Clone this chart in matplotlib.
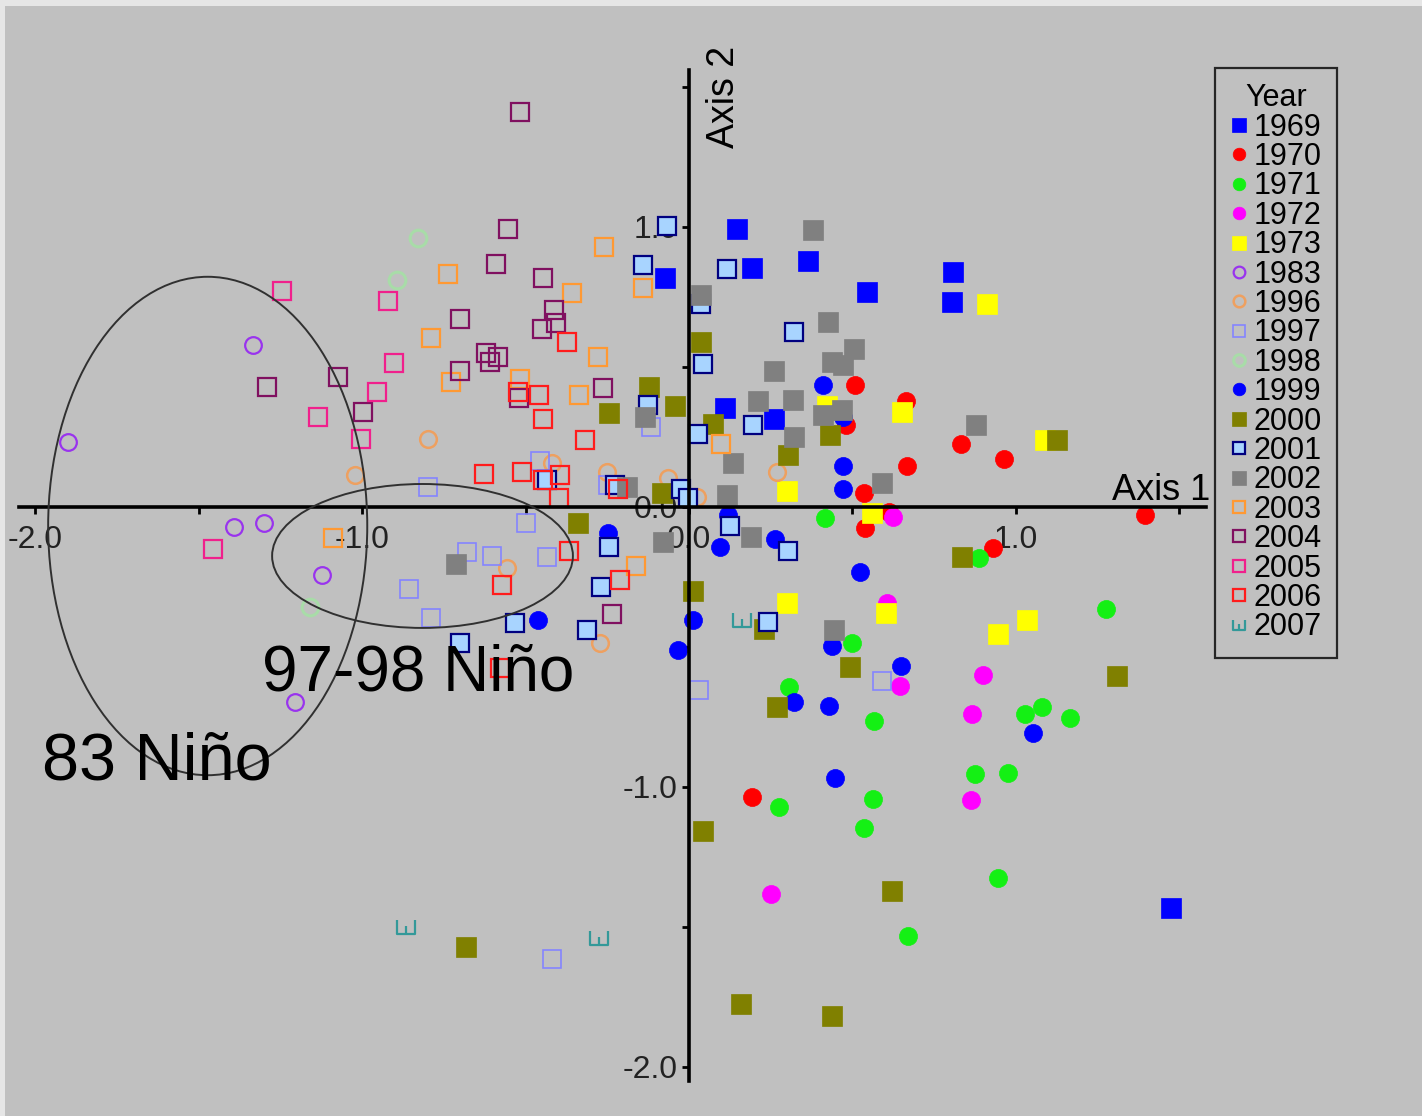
import matplotlib.pyplot as plt
from matplotlib.path import Path
from matplotlib.patches import Ellipse

plt.rcParams['font.family'] = ['Liberation Sans', 'DejaVu Sans']

# scores on the two ordination axes, per year
x_1969 = [0.147, 0.193, -0.073, 0.364, 0.544, 0.807, 0.804, 0.110, 0.260, 1.474]
y_1969 = [0.993, 0.854, 0.818, 0.879, 0.768, 0.839, 0.732, 0.354, 0.314, -1.432]

x_1970 = [0.508, 0.664, 0.480, 0.832, 0.963, 0.667, 0.535, 0.538, 0.612, 1.394, 0.930, 0.193]
y_1970 = [0.436, 0.379, 0.293, 0.225, 0.171, 0.146, 0.050, -0.075, -0.018, -0.029, -0.146, -1.036]

x_1971 = [0.416, 0.887, 0.498, 1.275, 0.306, 0.566, 1.028, 1.080, 1.165, 0.875, 0.976,
          0.563, 0.275, 0.535, 0.945, 0.670]
y_1971 = [-0.039, -0.182, -0.486, -0.364, -0.643, -0.764, -0.739, -0.714, -0.754, -0.954, -0.950,
          -1.043, -1.071, -1.146, -1.325, -1.532]

x_1972 = [0.624, 0.606, 0.645, 0.899, 0.865, 0.862, 0.251]
y_1972 = [-0.036, -0.343, -0.639, -0.600, -0.739, -1.046, -1.382]

x_1973 = [0.911, 0.651, 0.422, 0.300, 0.560, 1.089, 0.300, 0.602, 0.945, 1.034]
y_1973 = [0.725, 0.339, 0.361, 0.057, -0.021, 0.239, -0.343, -0.379, -0.454, -0.404]

x_1983 = [-1.333, -1.899, -1.391, -1.300, -1.122, -1.205]
y_1983 = [0.579, 0.232, -0.071, -0.057, -0.243, -0.696]

x_1996 = [-0.798, -1.021, -0.419, -0.251, -0.557, -0.272, -0.064, 0.269, 0.024]
y_1996 = [0.243, 0.114, 0.157, 0.125, -0.218, -0.486, 0.104, 0.125, 0.036]

x_1997 = [-0.798, -0.498, -0.679, -0.602, -0.434, -0.856, -0.789, -0.456, -0.116, 0.031,
          0.590, -0.419, -0.248]
y_1997 = [0.071, -0.057, -0.161, -0.175, -0.179, -0.293, -0.396, 0.164, 0.286, -0.654,
          -0.621, -1.614, 0.079]

x_1998 = [-0.829, -0.893, -1.159]
y_1998 = [0.961, 0.811, -0.357]

x_1999 = [0.410, 0.471, 0.471, 0.471, 0.119, 0.095, 0.263, 0.523, -0.462, -0.248, 0.012,
          -0.034, 0.437, 0.648, 0.321, 0.428, 0.446, 1.052]
y_1999 = [0.436, 0.321, 0.146, 0.064, -0.029, -0.143, -0.114, -0.232, -0.404, -0.093, -0.404,
          -0.511, -0.496, -0.568, -0.696, -0.711, -0.968, -0.807]

x_2000 = [-0.245, -0.122, -0.043, 0.037, 0.073, 0.303, 0.431, -0.083, -0.339, 0.835, 1.125,
          0.012, 0.229, 0.492, 0.269, 1.309, 0.043, 0.621, -0.682, 0.159, 0.437]
y_2000 = [0.336, 0.429, 0.361, 0.589, 0.296, 0.186, 0.257, 0.050, -0.057, -0.179, 0.239,
          -0.300, -0.436, -0.571, -0.714, -0.604, -1.157, -1.371, -1.571, -1.775, -1.818]

x_2001 = [-0.067, -0.141, 0.116, 0.321, 0.037, 0.043, -0.125, 0.028, 0.196, -0.024, -0.003,
          0.125, 0.303, 0.242, -0.532, -0.312, -0.700, -0.269, -0.245, -0.434, -0.226]
y_2001 = [1.004, 0.864, 0.850, 0.625, 0.725, 0.511, 0.364, 0.261, 0.293, 0.064, 0.032,
          -0.068, -0.157, -0.411, -0.414, -0.439, -0.486, -0.286, -0.143, 0.096, 0.079]

x_2002 = [0.379, 0.037, 0.425, 0.505, 0.437, 0.471, 0.260, 0.211, 0.318, 0.410, 0.468,
          -0.135, 0.321, 0.135, 0.590, 0.116, 0.190, -0.080, 0.443, -0.713, 0.878, -0.190]
y_2002 = [0.989, 0.757, 0.661, 0.564, 0.518, 0.507, 0.486, 0.379, 0.382, 0.329, 0.346,
          0.321, 0.250, 0.157, 0.086, 0.043, -0.107, -0.125, -0.439, -0.204, 0.293, 0.071]

x_2003 = [-0.260, -0.737, -0.358, -0.789, -0.278, -0.728, -0.517, -0.336, -0.141, -1.089,
          0.098, -0.162]
y_2003 = [0.929, 0.832, 0.764, 0.604, 0.536, 0.446, 0.457, 0.400, 0.782, -0.111,
          0.225, -0.211]

x_2004 = [-0.517, -0.554, -0.590, -0.446, -0.700, -0.413, -0.407, -0.450, -0.621, -0.584,
          -0.609, -0.700, -0.263, -1.073, -1.291, -0.997, -0.235, -0.520]
y_2004 = [1.411, 0.993, 0.868, 0.818, 0.671, 0.704, 0.657, 0.636, 0.550, 0.536,
          0.518, 0.486, 0.425, 0.464, 0.429, 0.339, -0.382, 0.389]

x_2005 = [-1.245, -0.920, -0.902, -0.954, -1.003, -1.135, -1.456]
y_2005 = [0.771, 0.736, 0.514, 0.411, 0.243, 0.321, -0.150]

x_2006 = [-0.373, -0.523, -0.459, -0.446, -0.318, -0.627, -0.511, -0.446, -0.394, -0.398,
          -0.217, -0.367, -0.572, -0.211, -0.578]
y_2006 = [0.589, 0.411, 0.400, 0.314, 0.239, 0.118, 0.125, 0.096, 0.114, 0.032,
          0.064, -0.157, -0.279, -0.261, -0.575]

x_2007 = [-0.865, -0.275, 0.162]
y_2007 = [-1.500, -1.539, -0.404]

# "E" turned on its side, used for 2007
e_marker = Path([(-1, 0.8), (-1, -0.8), (1, -0.8), (1, 0.8), (0, -0.8), (0, 0.1)],
                [Path.MOVETO, Path.LINETO, Path.LINETO, Path.LINETO, Path.MOVETO, Path.LINETO])

# label, x, y, marker, size, face, edge, edge width
series = [
    ('1969', x_1969, y_1969, 's', 14, '#0000ff', '#0000ff', 0.5),
    ('1970', x_1970, y_1970, 'o', 13, '#ff0000', '#ff0000', 0.5),
    ('1971', x_1971, y_1971, 'o', 13, '#14f014', '#14f014', 0.5),
    ('1972', x_1972, y_1972, 'o', 13, '#ff00ff', '#ff00ff', 0.5),
    ('1973', x_1973, y_1973, 's', 14, '#ffff00', '#ffff00', 0.5),
    ('1983', x_1983, y_1983, 'o', 12, 'none', '#9933ee', 1.6),
    ('1996', x_1996, y_1996, 'o', 12, 'none', '#eea060', 1.8),
    ('1997', x_1997, y_1997, 's', 13, 'none', '#8484ff', 1.2),
    ('1998', x_1998, y_1998, 'o', 12, 'none', '#a8dca8', 2.2),
    ('1999', x_1999, y_1999, 'o', 13, '#0000ff', '#0000ff', 0.5),
    ('2000', x_2000, y_2000, 's', 14, '#808000', '#808000', 0.5),
    ('2001', x_2001, y_2001, 's', 13, '#a8d4ff', '#000080', 1.6),
    ('2002', x_2002, y_2002, 's', 14, '#808080', '#808080', 0.5),
    ('2003', x_2003, y_2003, 's', 13, 'none', '#ff9933', 1.6),
    ('2004', x_2004, y_2004, 's', 13, 'none', '#801060', 1.6),
    ('2005', x_2005, y_2005, 's', 13, 'none', '#f0208c', 1.6),
    ('2006', x_2006, y_2006, 's', 13, 'none', '#ff1c1c', 1.6),
    ('2007', x_2007, y_2007, e_marker, 13, 'none', '#339999', 1.6),
]

fig = plt.figure(figsize=(14.22, 11.16), dpi=100)
fig.patch.set_facecolor('#e6e6e6')
ax = fig.add_axes([5 / 1422, 0, 1417 / 1422, 1110 / 1116])
ax.set_facecolor('#c0c0c0')
ax.set_xlim(-2.092, 2.242)
ax.set_ylim(-2.175, 1.789)

for label, xs, ys, mk, ms, fc, ec, mew in series:
    ax.plot(xs, ys, linestyle='none', marker=mk, markersize=ms,
            markerfacecolor=fc, markeredgecolor=ec, markeredgewidth=mew, label=label)

# the two El Niño groups
ax.add_patch(Ellipse((-1.472, -0.068), 0.976, 1.78, fill=False, edgecolor='#303030', lw=1.4, zorder=4))
ax.add_patch(Ellipse((-0.815, -0.175), 0.92, 0.514, fill=False, edgecolor='#303030', lw=1.4, zorder=4))
ax.text(-1.306, -0.654, '97-98 Niño', fontsize=46, ha='left', va='baseline', zorder=5)
ax.text(-1.979, -0.975, '83 Niño', fontsize=48, ha='left', va='baseline', zorder=5)

# axes through the origin
for side in ['top', 'right']:
    ax.spines[side].set_visible(False)
ax.spines['left'].set_position(('data', 0))
ax.spines['bottom'].set_position(('data', 0))
ax.spines['bottom'].set_bounds(-2.05, 1.58)
ax.spines['left'].set_bounds(-2.05, 1.56)
for side in ['left', 'bottom']:
    ax.spines[side].set_linewidth(2.6)
    ax.spines[side].set_zorder(3)

ticks = [-2.0, -1.5, -1.0, -0.5, 0.0, 0.5, 1.0, 1.5]
tick_labels = ['-2.0', '', '-1.0', '', '0.0', '', '1.0', '']
ax.set_xticks(ticks)
ax.set_xticklabels(tick_labels)
ax.set_yticks(ticks)
ax.set_yticklabels(tick_labels)
ax.tick_params(direction='out', length=5, width=2, labelsize=23, labelcolor='#222222')
ax.tick_params(axis='x', pad=8)
ax.tick_params(axis='y', pad=3)

ax.text(1.294, 0.025, 'Axis 1', fontsize=26, ha='left', va='baseline')
ax.text(0.107, 1.464, 'Axis 2', fontsize=27, rotation=90, ha='center', va='center')

leg = ax.legend(title='Year', loc='upper left', bbox_to_anchor=(1215 / 1422, 1 - 68 / 1116),
                bbox_transform=fig.transFigure, borderaxespad=0, fontsize=22, title_fontsize=22,
                frameon=True, fancybox=False, facecolor='none', edgecolor='black',
                handlelength=0.55, handletextpad=0.2, borderpad=0.5, labelspacing=-0.02,
                markerscale=0.7)
leg.get_frame().set_linewidth(1.6)

fig.savefig('out.png', dpi=100)
